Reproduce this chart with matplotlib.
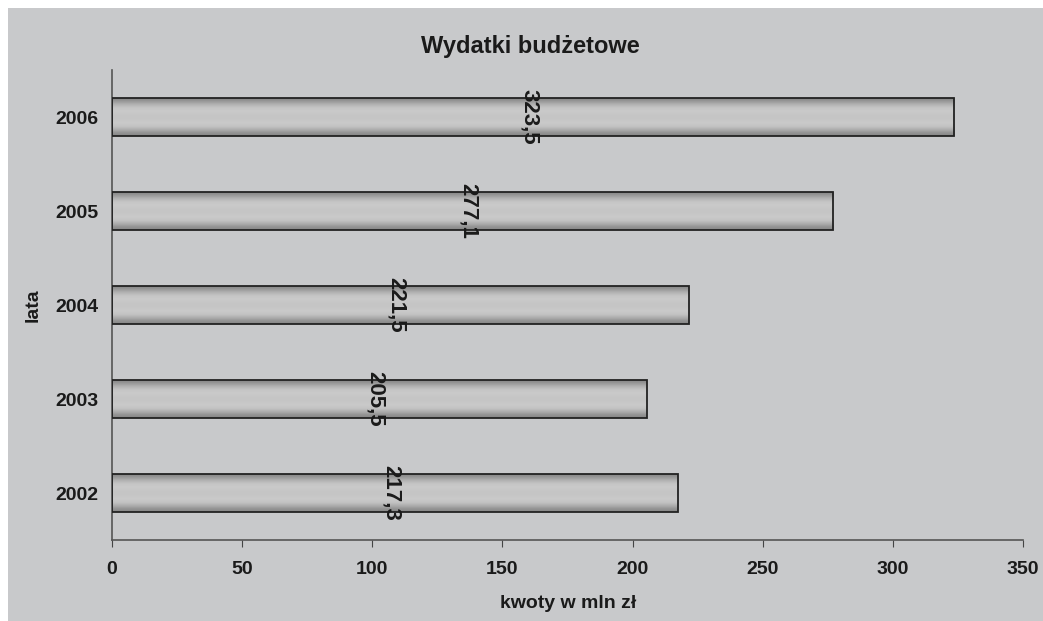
import matplotlib
matplotlib.use('Agg')
import matplotlib.pyplot as plt
import numpy as np
from matplotlib.patches import Rectangle

years = ['2002', '2003', '2004', '2005', '2006']
amounts = [217.3, 205.5, 221.5, 277.1, 323.5]
labels = ['217,3', '205,5', '221,5', '277,1', '323,5']

plt.rcParams['font.family'] = ['Liberation Sans', 'DejaVu Sans']
plt.rcParams['font.weight'] = 'bold'

bg = '#c8c9cb'
fig = plt.figure(figsize=(10.43, 6.21), dpi=100)
fig.patch.set_facecolor('white')
fig.patches.append(Rectangle((8 / 1043, 0), 1, 1 - 8 / 621, transform=fig.transFigure,
                             facecolor=bg, edgecolor='none', zorder=-10))

ax = fig.add_axes([112 / 1043, 81 / 621, 911 / 1043, 470 / 621])
ax.set_facecolor('none')

# vertical gradient for bars: dark edges, light middle
prof = np.array([0.52, 0.60, 0.70, 0.77, 0.79, 0.78, 0.77, 0.78, 0.79, 0.76, 0.68, 0.58, 0.52])
grad = np.interp(np.linspace(0, 1, 128), np.linspace(0, 1, len(prof)), prof)
img = np.repeat(grad[:, None], 2, axis=1)

h = 0.4
y = np.arange(len(years))
for i, v in enumerate(amounts):
    ax.imshow(img, cmap='gray', vmin=0, vmax=1, aspect='auto', interpolation='bilinear',
              extent=[0, v, y[i] - h / 2, y[i] + h / 2], origin='upper', zorder=2)
ax.barh(y, amounts, height=h, facecolor='none', edgecolor='#222222', linewidth=1.3, zorder=3)

for i, v in enumerate(amounts):
    ax.text(v / 2 - 1.5, y[i], labels[i], rotation=-90, ha='center', va='center',
            fontsize=16, fontweight='bold', color='#1a1a1a', zorder=4)

ax.set_xlim(0, 350)
ax.set_ylim(-0.5, 4.5)
ax.set_xticks(np.arange(0, 351, 50))
ax.set_yticks(y)
ax.set_yticklabels(years)
ax.tick_params(axis='y', length=0, pad=10, labelsize=14, colors='#1a1a1a')
ax.tick_params(axis='x', length=5, direction='out', color='#444444', pad=10,
               labelsize=14, labelcolor='#1a1a1a')
for s in ['top', 'right']:
    ax.spines[s].set_visible(False)
for s in ['left', 'bottom']:
    ax.spines[s].set_color('#555555')
    ax.spines[s].set_linewidth(1.2)

fig.text(530 / 1043, 1 - 47 / 621, 'Wydatki budżetowe', ha='center', va='center',
         fontsize=17, fontweight='bold', color='#1a1a1a')
fig.text(568 / 1043, 1 - 604 / 621, 'kwoty w mln zł', ha='center', va='center',
         fontsize=14, fontweight='bold', color='#1a1a1a')
fig.text(33 / 1043, 1 - 305 / 621, 'lata', ha='center', va='center', rotation=90,
         fontsize=14, fontweight='bold', color='#1a1a1a')

fig.savefig('out.png', dpi=100)
